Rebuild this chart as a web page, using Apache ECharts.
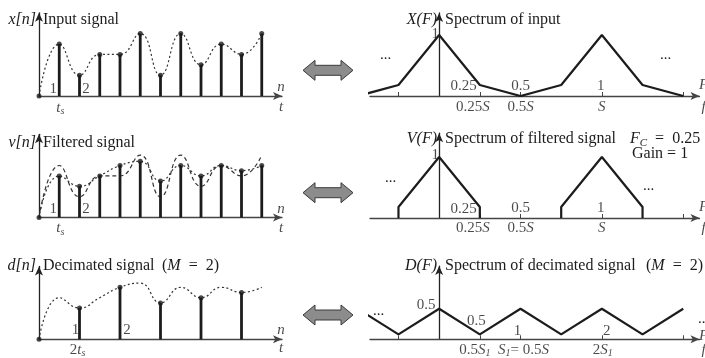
<!DOCTYPE html>
<html><head><meta charset="utf-8">
<script src="https://cdn.jsdelivr.net/npm/echarts@6/dist/echarts.min.js"></script>
<style>html,body{margin:0;padding:0;background:#fff}#c{width:705px;height:358px}</style>
</head><body><div id="c"></div>
<script>
// ---------- data ----------
const sampleN = [1,2,3,4,5,6,7,8,9,10,11];
const inputVals = [5,2,4,4,6,2,6,3,5,4,6];
const filteredVals = [4,3,4,5,5.4,3.5,5,4,5,4.5,5];
const decimN = [2,4,6,8,10];
const decimVals = [3,5,3.5,4,4.5];
const specF = [-0.5,-0.25,0,0.25,0.5,0.75,1,1.25,1.5];
const inputSpec = [0,0.18,1,0.18,0,0.18,1,0.18,0];
const filtLobeF = [[-0.25,-0.25,0,0.25,0.25],[0.75,0.75,1,1.25,1.25]];
const filtLobe = [0,0.18,1,0.18,0];
const decimSpec = [0.5,0.08,0.5,0.08,0.5,0.08,0.5,0.08,0.5];
const specTicks = [-0.25,0.25,0.5,1,1.5];
// tick labels
const leftTopLabels = ['1','2','{i|t}{sub|s}','{i|n}','{i|t}'];
const leftBotLabels = ['1','2','2{i|t}{sub|s}','{i|n}','{i|t}'];
const specTopLabels = ['1','0.25','0.5','1','0.25{i|S}','0.5{i|S}','{i|S}','{i|F}','{i|f}'];
const decTopLabels = ['0.5','0.5','1','2','0.5{i|S}{sub|1}','{i|S}{sub|1}= 0.5{i|S}','2{i|S}{sub|1}','{i|F}','{i|f}'];

const FONT = '"Liberation Serif","DejaVu Serif",serif';
const INK = '#1c1c1c';
const RICH = {
  i:{fontStyle:'italic',fontFamily:FONT,fontSize:15,color:INK},
  sub:{fontStyle:'italic',fontFamily:FONT,fontSize:10,color:INK,padding:[7,0,0,0]},
  r:{fontFamily:FONT,fontSize:15,color:INK}
};
const zip = (a,b)=>a.map((v,i)=>[v,b[i]]);

const grids = [
  {left:39, top:12.8, width:243, height:83.2},
  {left:39, top:134.3, width:243, height:83.2},
  {left:39, top:266.5, width:243, height:72.8},
  {left:370, top:13, width:329.5, height:83},
  {left:370, top:133.2, width:329.5, height:84.8},
  {left:370, top:266.1, width:329.5, height:73.2}
];
const yMax = [8,8,7,1.36,1.39,1.2];

const xAxis = grids.map((g,i)=>({
  type:'value', gridIndex:i, min: i<3?0:-0.425, max: i<3?12:1.6,
  splitLine:{show:false}, axisLabel:{show:false},
  axisLine:{show:true, symbol:['none','arrow'], symbolSize:[6,9], lineStyle:{color:'#444', width:1.3}},
  axisTick: i<3 ? {show:false} : {show:true, inside:true, length:4, customValues:specTicks, lineStyle:{color:'#444', width:1}}
}));
const yAxis = grids.map((g,i)=>({
  type:'value', gridIndex:i, min:0, max:yMax[i],
  splitLine:{show:false}, axisLabel:{show:false}, axisTick:{show:false},
  axisLine:{show:true, onZero:true, symbol:['none','arrow'], symbolSize:[6,9], lineStyle:{color:'#222', width:1.3}}
}));

function textSeries(gi, pts, texts, offs, aligns){
  return {type:'scatter', xAxisIndex:gi, yAxisIndex:gi, symbol:'circle', symbolSize:1, silent:true, z:20,
    itemStyle:{color:'rgba(0,0,0,0)'},
    data: pts.map((p,k)=>({value:p, label:{offset:offs[k], align:(aligns&&aligns[k])||'center'}})),
    label:{show:true, position:'inside', color:INK, fontFamily:FONT, fontSize:15, verticalAlign:'middle',
      rich:RICH, formatter:(p)=>texts[p.dataIndex]}};
}
const curve = (gi, xs, ys, type)=>({type:'line', xAxisIndex:gi, yAxisIndex:gi, smooth:0.5, symbol:'none', silent:true,
  data:[[0,0]].concat(zip(xs,ys)), lineStyle:{color:'#333', width:1.2, type:type}});
const stems = (gi, xs, ys)=>({type:'bar', xAxisIndex:gi, yAxisIndex:gi, barWidth:2.8, silent:true,
  itemStyle:{color:INK}, data:zip(xs,ys), z:5});
const dots = (gi, xs, ys)=>({type:'scatter', xAxisIndex:gi, yAxisIndex:gi, symbolSize:5, silent:true, z:6,
  itemStyle:{color:INK}, data:[[0,0]].concat(zip(xs,ys))});
const spec = (gi, xs, ys)=>({type:'line', xAxisIndex:gi, yAxisIndex:gi, symbol:'none', silent:true, clip:true,
  data:zip(xs,ys), lineStyle:{color:INK, width:2.2}, z:4});

const series = [
  curve(0, sampleN, inputVals, [2,2.5]), stems(0, sampleN, inputVals), dots(0, sampleN, inputVals),
  curve(1, sampleN, inputVals, [4,3]), curve(1, sampleN, filteredVals, [2,2.5]), stems(1, sampleN, filteredVals), dots(1, sampleN, filteredVals),
  curve(2, sampleN, filteredVals, [2,2.5]), stems(2, decimN, decimVals), dots(2, decimN, decimVals),
  spec(3, specF, inputSpec),
  spec(4, filtLobeF[0], filtLobe), spec(4, filtLobeF[1], filtLobe),
  spec(5, specF, decimSpec),
  textSeries(0, [[1,0],[2,0],[1,0],[12,0],[12,0]], leftTopLabels, [[-6,-7],[6.5,-7],[1,12],[-1,-9],[-1,11]]),
  textSeries(1, [[1,0],[2,0],[1,0],[12,0],[12,0]], leftTopLabels, [[-6,-8],[6.5,-8],[1,11],[-1,-8],[-1,11]]),
  textSeries(2, [[2,0],[4,0],[2,0],[12,0],[12,0]], leftBotLabels, [[-4,-9],[7,-9],[-2,11],[-1,-9],[-1,9]]),
  textSeries(3, [[0,1],[0.25,0],[0.5,0],[1,0],[0.25,0],[0.5,0],[1,0],[1.6,0],[1.6,0]], specTopLabels,
    [[-4,-1],[-3,-9.5],[0,-10],[-1,-10],[-7,11.5],[0,11.5],[0,11.5],[4,-11],[4,11]], ['center','right']),
  textSeries(4, [[0,1],[0.25,0],[0.5,0],[1,0],[0.25,0],[0.5,0],[1,0],[1.6,0],[1.6,0]], specTopLabels,
    [[-4,-2],[-3,-8.5],[0,-10],[-1,-10],[-7,10.5],[0,10.5],[0,10.5],[4,-11],[4,10]], ['center','right']),
  textSeries(5, [[0,0.5],[0.25,0.08],[0.5,0],[1,0],[0.25,0],[0.5,0],[1,0],[1.6,0],[1.6,0]], decTopLabels,
    [[-13,-4],[-3.5,-13],[-3,-8],[5,-8],[-5,11],[3,11],[1,11],[4,-3],[4,11]])
];

// ---------- decorations ----------
const g = [];
function txt(x,y,text,opt){ g.push({type:'text', silent:true, z:30, style:Object.assign({text:text, x:x, y:y, fontFamily:FONT, fontSize:16, fill:INK, textVerticalAlign:'middle', rich:RICH}, opt||{})}); }
const RI = {i:{fontStyle:'italic',fontFamily:FONT,fontSize:16,color:INK},sub:{fontStyle:'italic',fontFamily:FONT,fontSize:11,color:INK,padding:[8,0,0,0]}};
[[36,20,'x[n]'],[36,143,'v[n]'],[36,266,'d[n]']].forEach(a=>txt(a[0],a[1],a[2],{textAlign:'right',fontStyle:'italic'}));
[[437,20,'X(F)'],[437,139,'V(F)'],[437,266,'D(F)']].forEach(a=>txt(a[0],a[1],a[2],{textAlign:'right',fontStyle:'italic'}));
txt(43,20,'Input signal'); txt(43,143,'Filtered signal'); txt(43,266,'Decimated signal');
txt(162,266,'({i|M}  =  2)',{rich:RI});
txt(445,20,'Spectrum of input'); txt(445,139,'Spectrum of filtered signal'); txt(445,266,'Spectrum of decimated signal');
txt(646,266,'({i|M}  =  2)',{rich:RI});
txt(630,139,'{i|F}{sub|C}  =  0.25',{rich:RI});
txt(632,154,'Gain = 1');
[[380,55],[660,55],[385,178],[643,186],[373,311],[698,319]].forEach(a=>txt(a[0],a[1],'...',{fontSize:15}));
[70.3,192.7,315].forEach(cy=>{
  g.push({type:'polygon', silent:true, z:30, shape:{points:[[303,cy],[315,cy-10],[315,cy-5],[341,cy-5],[341,cy-10],[353,cy],[341,cy+10],[341,cy+5],[315,cy+5],[315,cy+10]]},
    style:{fill:'#8c8c8c', stroke:'#3a3a3a', lineWidth:1}});
});

const chart = echarts.init(document.getElementById('c'), null, {renderer:'canvas'});
chart.setOption({animation:false, backgroundColor:'#fff', grid:grids, xAxis:xAxis, yAxis:yAxis, series:series, graphic:g});
</script></body></html>
